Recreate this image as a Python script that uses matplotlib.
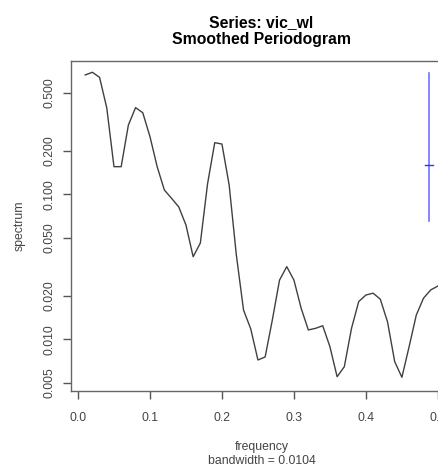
import numpy as np
import matplotlib
matplotlib.use("Agg")
import matplotlib.pyplot as plt

plt.rcParams['font.family'] = ['Liberation Sans', 'DejaVu Sans']

# Сглаженная периодограмма ряда vic_wl
freq = [0.01, 0.02, 0.03, 0.04, 0.05, 0.06, 0.07, 0.08, 0.09, 0.10,
        0.11, 0.12, 0.13, 0.14, 0.15, 0.16, 0.17, 0.18, 0.19, 0.20,
        0.21, 0.22, 0.23, 0.24, 0.25, 0.26, 0.27, 0.28, 0.29, 0.30,
        0.31, 0.32, 0.33, 0.34, 0.35, 0.36, 0.37, 0.38, 0.39, 0.40,
        0.41, 0.42, 0.43, 0.44, 0.45, 0.46, 0.47, 0.48, 0.49, 0.50]
spec = [0.665, 0.694, 0.640, 0.394, 0.155, 0.155, 0.300, 0.396, 0.365, 0.250,
        0.155, 0.107, 0.0938, 0.0818, 0.0614, 0.0371, 0.0461, 0.118, 0.227, 0.222,
        0.116, 0.0381, 0.0159, 0.0118, 0.0072, 0.00755, 0.0136, 0.0256, 0.0317, 0.0256,
        0.0164, 0.0116, 0.0119, 0.0124, 0.00889, 0.00552, 0.00647, 0.0119, 0.0182, 0.0202,
        0.0208, 0.0189, 0.0132, 0.00701, 0.00547, 0.00889, 0.0147, 0.0192, 0.0219, 0.0233]

# Доверительный интервал (синяя метка справа)
ci_freq = 0.4875
ci_half_width = 0.0053
ci_lower, ci_center, ci_upper = 0.0658, 0.159, 0.683

yticks = [0.005, 0.010, 0.020, 0.050, 0.100, 0.200, 0.500]
ytick_labels = ["0.005", "0.010", "0.020", "0.050", "0.100", "0.200", "0.500"]
xticks = [0.0, 0.1, 0.2, 0.3, 0.4, 0.5]
xtick_labels = ["0.0", "0.1", "0.2", "0.3", "0.4", "0.5"]

fig = plt.figure(figsize=(4.39, 4.68), dpi=100)
W, H = 439, 468
ax = fig.add_axes([71 / W, (H - 391) / H, (452 - 71) / W, (391 - 61) / H])

ax.plot(freq, spec, color="#404040", linewidth=1.0)
ax.plot([ci_freq, ci_freq], [ci_lower, ci_upper], color="#7272ff", linewidth=1.2)
ax.plot([ci_freq - ci_half_width, ci_freq + ci_half_width], [ci_center, ci_center],
        color="#3030ff", linewidth=1.0)

ax.set_yscale("log")
ax.set_xlim(-0.0097, 0.5196)
ax.set_ylim(0.0044, 0.83)

ax.set_yticks(yticks)
ax.set_yticklabels(ytick_labels, rotation=90, va="center")
ax.yaxis.set_minor_locator(matplotlib.ticker.NullLocator())
ax.set_xticks(xticks)
ax.set_xticklabels(xtick_labels)

ax.tick_params(axis="both", length=6, width=1, color="#555555",
               labelsize=8.8, labelcolor="#444444")
ax.tick_params(axis="y", pad=5)
ax.tick_params(axis="x", pad=9)
for s in ax.spines.values():
    s.set_color("#666666")
    s.set_linewidth(1.0)

ax.set_ylabel("spectrum", fontsize=8.8, color="#444444")
ax.yaxis.set_label_coords(-0.118, 0.5)
ax.set_xlabel("frequency\nbandwidth = 0.0104", fontsize=8.8, color="#444444",
              linespacing=1.2, va="top")
ax.xaxis.set_label_coords(0.5, -0.152)

ax.set_title("Series: vic_wl\nSmoothed Periodogram", fontsize=11.3,
             fontweight="bold", pad=12, linespacing=1.2)

fig.savefig("out.png", dpi=100)
